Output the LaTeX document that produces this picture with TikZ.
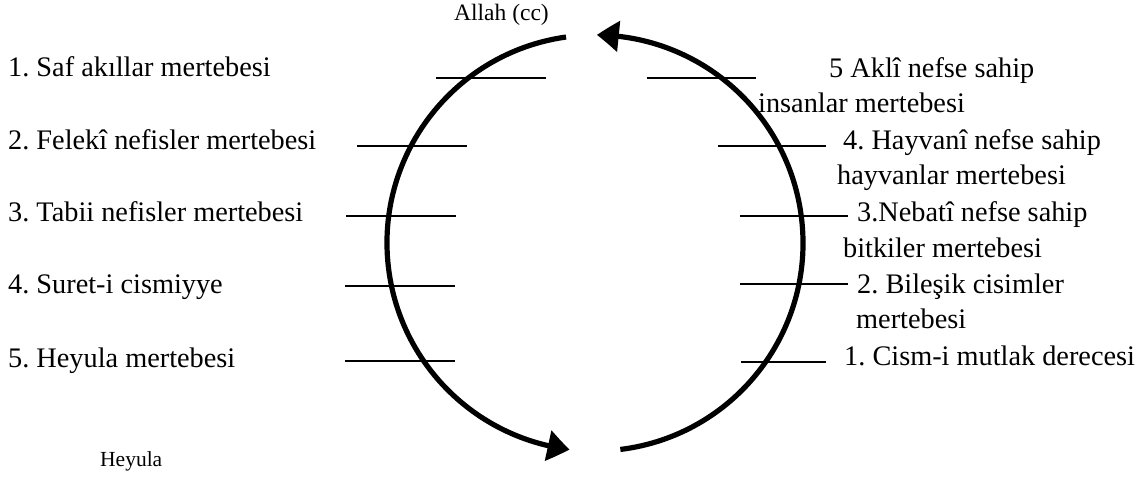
\documentclass[tikz,border=0pt]{standalone}
\usepackage{fontspec}
\setmainfont{Liberation Serif}
\usetikzlibrary{arrows.meta,bending}
\frenchspacing
\tikzset{
  lbl/.style={inner sep=0pt, anchor=base west, font=\fontsize{28.3}{34}\selectfont},
  small/.style={inner sep=0pt, anchor=base west, font=\fontsize{23.5}{28}\selectfont},
  tickline/.style={line width=1.4pt},
  bigarc/.style={line width=5.2pt, -{Triangle[length=22pt,width=30pt,bend]}},
}
\begin{document}
\begin{tikzpicture}[x=1pt,y=1pt]
\useasboundingbox (0,0) rectangle (1148,488);
\coordinate (c) at (595,245);
% arcs
\draw[bigarc] (c) ++(98:208) arc[start angle=98, end angle=263, radius=208];
\draw[bigarc] (c) ++(-83:208) arc[start angle=-83, end angle=89.5, radius=208];
% top / bottom labels
\node[small] (allah) at (454,467) {Allah (cc)};
\node[small, font=\fontsize{21.5}{26}\selectfont] (heyula) at (100,22) {Heyula};
% left labels
\node[lbl] (l1) at (8,411) {1. Saf akıllar mertebesi};
\node[lbl] (l2) at (8,338) {2. Felekî nefisler mertebesi};
\node[lbl] (l3) at (8,266) {3. Tabii nefisler mertebesi};
\node[lbl] (l4) at (8,195) {4. Suret-i cismiyye};
\node[lbl] (l5) at (8,121) {5. Heyula mertebesi};
% right labels
\node[lbl] (r5a) at (829,410) {5 Aklî nefse sahip};
\node[lbl] (r5b) at (758,375) {insanlar mertebesi};
\node[lbl] (r4a) at (843,338) {4. Hayvanî nefse sahip};
\node[lbl] (r4b) at (837,303) {hayvanlar mertebesi};
\node[lbl] (r3a) at (857,266) {3.Nebatî nefse sahip};
\node[lbl] (r3b) at (843,231) {bitkiler mertebesi};
\node[lbl] (r2a) at (857,195) {2. Bileşik cisimler};
\node[lbl] (r2b) at (856,160) {mertebesi};
\node[lbl] (r1) at (844,123) {1. Cism-i mutlak derecesi};
% left ticks
\draw[tickline] (436,410) -- (546,410);
\draw[tickline] (357,342) -- (467,342);
\draw[tickline] (346,272) -- (456,272);
\draw[tickline] (345,202) -- (455,202);
\draw[tickline] (345,127) -- (455,127);
% right ticks
\draw[tickline] (647,410) -- (756,410);
\draw[tickline] (718,342) -- (826,342);
\draw[tickline] (740,272) -- (848,272);
\draw[tickline] (740,204) -- (848,204);
\draw[tickline] (741,126) -- (826,126);
\end{tikzpicture}
\end{document}
